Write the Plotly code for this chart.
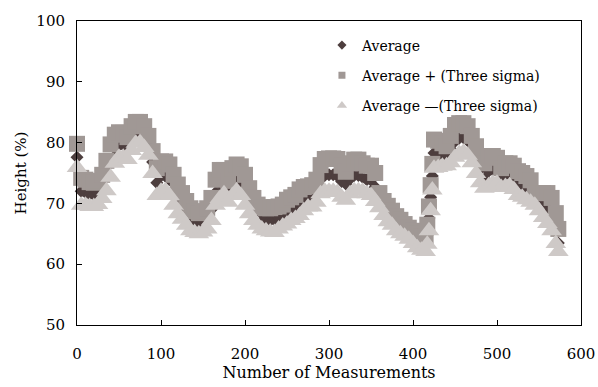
import plotly.graph_objects as go

measurements = [0,5,10,15,20,25,30,35,40,45,50,55,60,65,70,75,80,85,90,95,
                100,105,110,115,120,125,130,135,140,145,150,155,160,165,170,175,180,185,190,195,
                200,205,210,215,220,225,230,235,240,245,250,255,260,265,270,275,280,285,290,295,
                300,305,310,315,320,325,330,335,340,345,350,355,360,365,370,375,380,385,390,395,
                400,405,410,415,417,419,421,423,425,430,435,440,445,450,455,460,465,470,475,480,
                485,490,495,500,505,510,515,520,525,530,535,540,545,550,555,560,565,570,573]

average = [77.6,72.0,71.8,71.5,71.4,71.7,72.8,74.5,77.0,79.0,79.6,79.6,79.0,80.7,81.6,81.7,81.0,79.5,76.8,73.4,
           74.5,74.5,73.9,72.2,70.7,69.5,68.4,67.4,66.9,66.7,67.0,67.5,69.0,71.8,73.2,73.6,72.0,73.5,74.2,73.7,
           72.2,70.4,69.0,68.1,67.6,67.4,67.2,67.3,67.7,68.0,68.6,69.1,69.5,70.1,70.8,71.1,71.2,72.0,74.0,74.6,
           74.7,74.7,74.5,73.6,73.2,74.0,74.6,74.6,74.3,73.9,73.8,72.7,70.5,69.2,68.3,67.6,66.7,66.2,65.6,65.0,
           64.4,63.8,63.4,63.3,64.8,67.6,71.0,74.5,78.3,78.1,78.0,77.8,78.9,80.2,80.7,80.8,80.3,78.9,77.1,75.6,
           74.0,75.3,75.5,75.4,74.0,74.7,74.8,74.2,73.3,73.0,72.6,72.0,70.7,70.3,69.7,69.2,68.2,65.9,63.5]

upper = [79.8,74.2,73.9,73.5,73.4,73.7,74.7,77.0,79.7,81.3,81.7,81.6,80.9,82.7,83.4,83.4,82.7,81.1,78.6,75.8,
         76.9,76.9,76.4,74.7,73.1,71.7,70.4,69.2,68.7,68.4,68.7,69.2,70.9,73.9,75.5,75.5,73.7,75.8,76.4,76.1,
         74.7,72.5,70.9,69.8,69.4,69.2,69.2,69.4,69.5,69.8,70.6,71.0,71.4,72.3,72.7,72.8,73.0,73.9,76.3,77.3,
         77.4,77.4,77.3,76.2,75.2,76.6,77.2,77.2,76.6,76.2,76.2,75.0,71.7,70.4,69.6,68.8,67.9,67.3,66.6,66.0,
         65.5,65.0,64.6,64.6,66.5,69.5,73.0,76.5,80.5,80.3,79.9,79.4,81.1,82.9,83.2,83.2,82.7,81.1,79.4,77.8,
         76.6,77.8,77.8,77.5,75.8,76.6,76.6,76.2,75.3,75.0,74.5,73.8,71.7,71.7,71.7,71.7,70.9,68.4,65.8]

lower = [75.9,69.7,69.7,69.5,69.5,69.8,70.8,72.1,74.3,76.6,77.6,77.6,77.2,78.7,79.9,80.0,79.2,77.9,74.9,71.3,
         72.0,72.1,71.3,69.7,68.3,67.4,66.4,65.5,65.2,65.0,65.3,65.8,67.2,69.7,70.8,71.6,70.2,71.3,72.1,71.3,
         69.7,68.3,67.2,66.4,65.8,65.5,65.3,65.2,65.8,66.3,66.6,67.2,67.5,68.0,68.8,69.4,69.4,70.2,71.6,72.0,
         72.0,72.0,71.8,71.0,70.5,71.6,72.1,72.1,72.0,71.6,71.3,70.3,69.3,68.0,67.0,66.4,65.5,65.0,64.6,64.1,
         63.4,62.7,62.3,62.1,63.3,65.5,68.8,72.2,75.8,75.9,76.1,76.2,76.7,77.6,78.2,78.4,77.9,76.7,74.9,73.4,
         72.5,72.9,73.3,73.3,72.6,72.8,72.9,72.3,71.3,71.0,70.6,70.2,69.7,68.8,67.7,66.7,65.5,63.4,62.1]

series_names = ["Average", "Average + (Three sigma)", "Average \u2014(Three sigma)"]
x_ticks = [0, 100, 200, 300, 400, 500, 600]
y_ticks = [50, 60, 70, 80, 90, 100]

c_avg = "#4d3e3e"
c_up = "#a09895"
c_low = "#cec9c7"
FONT = "DejaVu Serif"

fig = go.Figure()
fig.add_trace(go.Scatter(x=measurements, y=average, mode="markers", showlegend=False,
                         cliponaxis=False,
                         marker=dict(symbol="diamond", size=10, color=c_avg, line=dict(width=0))))
fig.add_trace(go.Scatter(x=measurements, y=upper, mode="markers", showlegend=False,
                         cliponaxis=False,
                         marker=dict(symbol="square", size=16, color=c_up, line=dict(width=0))))
fig.add_trace(go.Scatter(x=measurements, y=lower, mode="markers", showlegend=False,
                         cliponaxis=False,
                         marker=dict(symbol="triangle-up", size=18, color=c_low, line=dict(width=0))))

# legend entries
for name, sym, sz, col, grp in [(series_names[0], "diamond", 7, c_avg, "a"),
                                (series_names[1], "square", 7, c_up, "b"),
                                (series_names[2], "triangle-up", 9, c_low, "c")]:
    fig.add_trace(go.Scatter(x=[None], y=[None], mode="markers", name=name, legendgroup=grp,
                             marker=dict(symbol=sym, size=sz, color=col, line=dict(width=0))))

fig.update_layout(
    width=598, height=387,
    margin=dict(l=77, r=17, t=21, b=62, autoexpand=False),
    paper_bgcolor="white", plot_bgcolor="white",
    font=dict(family=FONT, color="#000000", size=15),
    showlegend=True,
    legend=dict(x=0.486, y=0.972, xanchor="left", yanchor="top",
                font=dict(family=FONT, size=14, color="#000000"),
                bgcolor="rgba(0,0,0,0)", borderwidth=0, tracegroupgap=9),
    xaxis=dict(range=[0, 600], tickvals=x_ticks, ticks="inside", ticklen=5, tickcolor="#000",
               showline=True, linecolor="#000", linewidth=1, mirror=True, automargin=False,
               showgrid=False, zeroline=False, ticklabelstandoff=15,
               tickfont=dict(family=FONT, size=15),
               title=dict(text="Number of Measurements", font=dict(family=FONT, size=16), standoff=0)),
    yaxis=dict(range=[50, 100], tickvals=y_ticks, ticks="inside", ticklen=5, tickcolor="#000",
               showline=True, linecolor="#000", linewidth=1, mirror=True, automargin=False,
               showgrid=False, zeroline=False, ticklabelstandoff=8,
               tickfont=dict(family=FONT, size=15),
               title=dict(text="Height (%)", font=dict(family=FONT, size=15), standoff=6)),
)

fig.write_html("out.html", config={"displayModeBar": False},
               post_script="document.body.style.margin='0px';")
